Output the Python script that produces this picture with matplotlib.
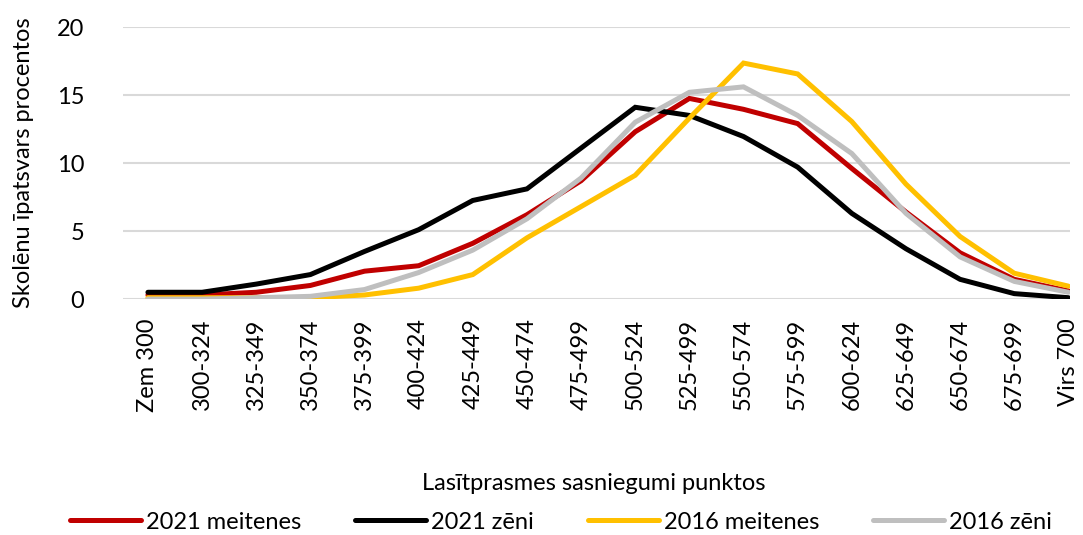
import matplotlib
matplotlib.use("Agg")
import matplotlib.pyplot as plt

categories = ["Zem 300", "300-324", "325-349", "350-374", "375-399", "400-424",
              "425-449", "450-474", "475-499", "500-524", "525-499", "550-574",
              "575-599", "600-624", "625-649", "650-674", "675-699", "Virs 700"]

meitenes_2021 = [0.3, 0.3, 0.5, 1.0, 2.05, 2.45, 4.1, 6.2, 8.7, 12.3, 14.75, 13.95,
                 12.9, 9.6, 6.4, 3.4, 1.45, 0.6]
zeni_2021 = [0.5, 0.5, 1.1, 1.8, 3.5, 5.1, 7.25, 8.1, 11.1, 14.1, 13.5, 11.95,
             9.7, 6.3, 3.7, 1.45, 0.4, 0.1]
meitenes_2016 = [0.1, 0.1, 0.1, 0.1, 0.3, 0.8, 1.8, 4.5, 6.8, 9.1, 13.3, 17.35,
                 16.55, 13.05, 8.45, 4.6, 1.9, 0.95]
zeni_2016 = [0.0, 0.0, 0.1, 0.2, 0.7, 1.95, 3.6, 5.9, 8.9, 13.0, 15.2, 15.6,
             13.5, 10.7, 6.3, 3.1, 1.3, 0.5]

series = [
    ("2021 meitenes", meitenes_2021, "#C00000"),
    ("2021 zēni", zeni_2021, "#000000"),
    ("2016 meitenes", meitenes_2016, "#FFC000"),
    ("2016 zēni", zeni_2016, "#BFBFBF"),
]

plt.rcParams['font.family'] = ['Lato', 'DejaVu Sans']
FS = 17

fig = plt.figure(figsize=(10.83, 5.35), dpi=100)
ax = fig.add_axes([0.1136, 0.441, 0.8744, 0.5085])

x = list(range(len(categories)))
for name, vals, col in series:
    ax.plot(x, vals, color=col, lw=3.6, label=name, solid_capstyle='round',
            solid_joinstyle='miter')

ax.set_ylim(0, 20)
ax.set_yticks([0, 5, 10, 15, 20])
ax.set_xlim(-0.46, 17.03)
ax.set_xticks(x)
ax.set_xticklabels(categories, rotation=90, fontsize=FS)
ax.tick_params(axis='y', labelsize=FS, length=0, pad=28)
ax.tick_params(axis='x', length=0, pad=14)
ax.grid(axis='y', color='#D9D9D9', lw=1.5)
ax.set_axisbelow(True)
for s in ax.spines.values():
    s.set_visible(False)

ax.set_ylabel("Skolēnu īpatsvars procentos", fontsize=FS, labelpad=16)
fig.text(0.548, 0.097, "Lasītprasmes sasniegumi punktos", ha='center', va='center', fontsize=FS)

leg = fig.legend(loc='center', bbox_to_anchor=(0.518, 0.024), ncol=4, frameon=False,
                 fontsize=FS, handlelength=3.0, handletextpad=0.2, columnspacing=2.3)

fig.savefig("out.png", dpi=100)
